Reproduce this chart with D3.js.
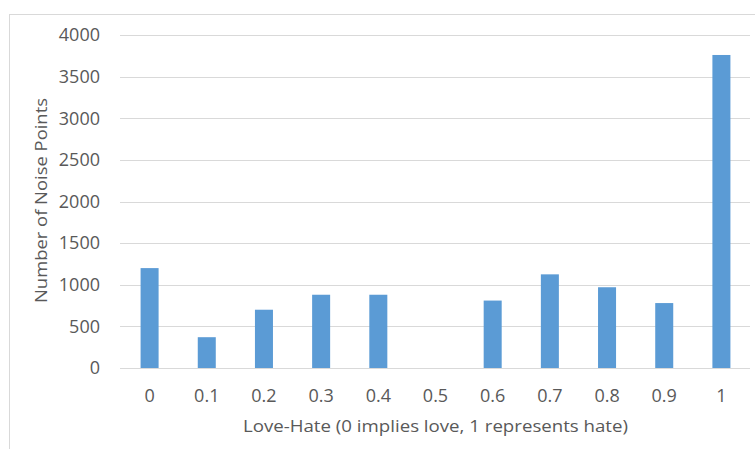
<!DOCTYPE html>
<html>
<head>
<meta charset="utf-8">
<script src="https://cdn.jsdelivr.net/npm/d3@7"></script>
<style>
  html, body { margin: 0; padding: 0; background: #fff; }
  svg { display: block; }
  text { font-family: "Open Sans", "Noto Sans", sans-serif; fill: #595959; }
</style>
</head>
<body>
<svg id="chart" width="755" height="449"></svg>
<script>
const categories = ["0", "0.1", "0.2", "0.3", "0.4", "0.5", "0.6", "0.7", "0.8", "0.9", "1"];
const noisePoints = [1200, 370, 700, 880, 880, 0, 810, 1125, 970, 780, 3760];
const yTicks = [0, 500, 1000, 1500, 2000, 2500, 3000, 3500, 4000];
const xTitle = "Love-Hate (0 implies love, 1 represents hate)";
const yTitle = "Number of Noise Points";

const svg = d3.select("#chart");
const W = 755, H = 449;
const plot = { left: 121, right: 750, top: 35, bottom: 368 };

// chart border
svg.append("rect")
  .attr("x", 9.5).attr("y", 14.5)
  .attr("width", W + 10).attr("height", H + 10)
  .attr("fill", "none").attr("stroke", "#d9d9d9").attr("stroke-width", 1);

const x = d3.scaleBand().domain(categories).range([plot.left, plot.right])
  .paddingInner(0.685).paddingOuter(0.3425);
const y = d3.scaleLinear().domain([0, 4000]).range([plot.bottom, plot.top]);

// gridlines
svg.append("g").selectAll("line").data(yTicks).join("line")
  .attr("x1", plot.left - 1).attr("x2", plot.right)
  .attr("y1", d => Math.round(y(d)) + 0.5).attr("y2", d => Math.round(y(d)) + 0.5)
  .attr("stroke", "#d9d9d9").attr("stroke-width", 1);

// y axis labels
const yAxis = d3.axisLeft(y).tickValues(yTicks).tickFormat(d3.format("d")).tickSize(0).tickPadding(0);
const gy = svg.append("g").attr("transform", `translate(100,0)`).call(yAxis);
gy.select(".domain").remove();
gy.selectAll("text").style("font-size", "18px").attr("fill", "#595959")
  .attr("font-family", "Open Sans, Noto Sans, sans-serif");

// bars
svg.append("g").selectAll("rect").data(noisePoints).join("rect")
  .attr("x", (d, i) => x(categories[i]))
  .attr("width", x.bandwidth())
  .attr("y", d => y(d))
  .attr("height", d => y(0) - y(d))
  .attr("fill", "#5b9bd5");

// x axis labels
const xAxis = d3.axisBottom(x).tickSize(0).tickPadding(0);
const gx = svg.append("g").attr("transform", `translate(0,${plot.bottom})`).call(xAxis);
gx.select(".domain").remove();
gx.selectAll("text").style("font-size", "18px").attr("fill", "#595959")
  .attr("font-family", "Open Sans, Noto Sans, sans-serif")
  .attr("dy", null).attr("y", 34);

// axis titles
svg.append("text")
  .attr("x", 435.5).attr("y", 432)
  .attr("text-anchor", "middle")
  .attr("textLength", 385).attr("lengthAdjust", "spacingAndGlyphs")
  .style("font-size", "17px")
  .text(xTitle);

svg.append("text")
  .attr("transform", "translate(47,200.5) rotate(-90)")
  .attr("text-anchor", "middle")
  .attr("textLength", 205).attr("lengthAdjust", "spacingAndGlyphs")
  .style("font-size", "17px")
  .text(yTitle);
</script>
</body>
</html>
